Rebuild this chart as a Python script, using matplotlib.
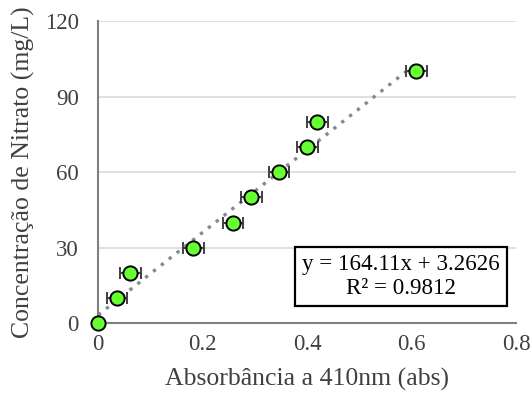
import numpy as np
import matplotlib.pyplot as plt

plt.rcParams['font.family'] = ['Liberation Serif', 'DejaVu Serif']

# absorbance readings and nitrate standards
absorbance = [0.0, 0.036, 0.061, 0.182, 0.258, 0.293, 0.346, 0.400, 0.419, 0.609]
nitrate = [0, 10, 20, 30, 40, 50, 60, 70, 80, 100]
abs_err = [0.0, 0.02, 0.02, 0.02, 0.02, 0.02, 0.02, 0.02, 0.02, 0.02]

slope = 164.11
intercept = 3.2626
r2 = 0.9812

fig = plt.figure(figsize=(5.31, 3.99), dpi=100)
ax = fig.add_axes([0.185, 0.19, 0.787, 0.757])

ax.yaxis.grid(True, color='#d9d9d9', linewidth=1.2)
ax.set_axisbelow(True)

xs = np.array([0, max(absorbance)])
ax.plot(xs, slope * xs + intercept, linestyle=(0, (1, 2)), color='#7f8a99',
        linewidth=2.4, zorder=2)

ax.errorbar(absorbance, nitrate, xerr=abs_err, fmt='none', ecolor='#404040',
            elinewidth=1.4, capsize=4.5, capthick=1.4, zorder=3)
ax.scatter(absorbance, nitrate, s=105, color='#66ff33', edgecolor='black',
           linewidth=1.4, zorder=4, clip_on=False)

ax.set_xlim(0, 0.8)
ax.set_ylim(0, 120)
ax.set_xticks([0, 0.2, 0.4, 0.6, 0.8])
ax.set_xticklabels(['0', '0.2', '0.4', '0.6', '0.8'])
ax.set_yticks([0, 30, 60, 90, 120])
ax.tick_params(length=0, labelsize=16.5, colors='#404040')
ax.tick_params(axis='x', pad=8)
ax.tick_params(axis='y', pad=14)

for side in ['top', 'right']:
    ax.spines[side].set_visible(False)
for side in ['left', 'bottom']:
    ax.spines[side].set_color('#808080')
    ax.spines[side].set_linewidth(1.5)

ax.set_xlabel('Absorbância a 410nm (abs)', fontsize=18.5, color='#404040', labelpad=9)
ax.set_ylabel('Concentração de Nitrato (mg/L)', fontsize=18.5, color='#404040', labelpad=7)

ax.text(0.725, 0.154, f'y = {slope}x + {intercept}\nR² = {r2}',
        transform=ax.transAxes, ha='center', va='center', fontsize=16.6,
        linespacing=1.2,
        bbox=dict(boxstyle='square,pad=0.3', facecolor='white',
                  edgecolor='black', linewidth=1.6))

fig.savefig('out.png', dpi=100)
